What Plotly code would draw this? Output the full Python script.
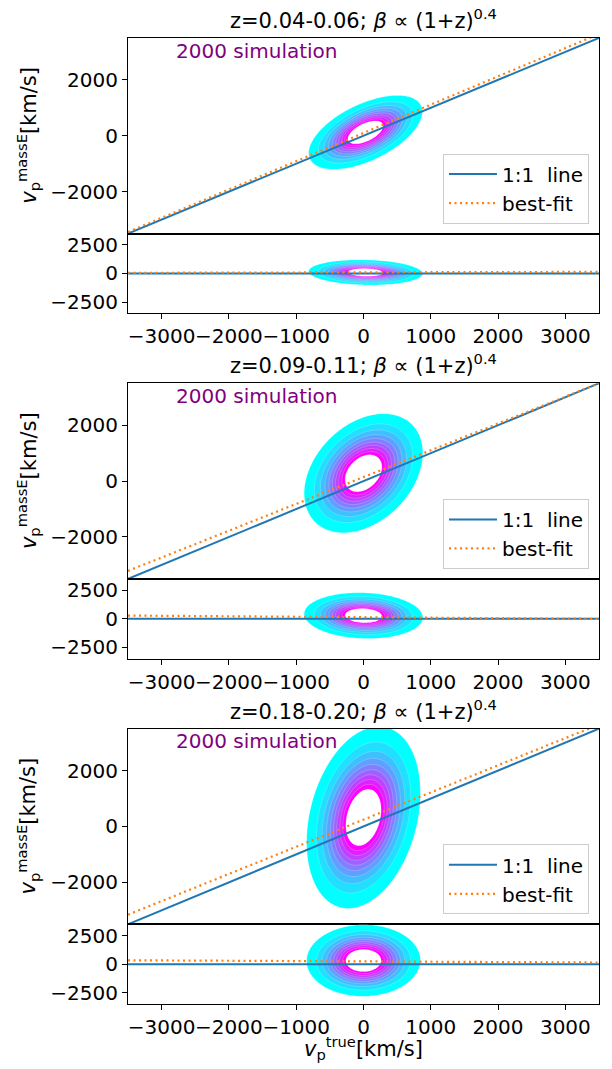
import numpy as np
import plotly.graph_objects as go

W, H = 612, 1069

# ---------------- data ----------------
panel_titles = ["z=0.04-0.06; <i>β</i> ∝ (1+z)<sup>0.4</sup>",
                "z=0.09-0.11; <i>β</i> ∝ (1+z)<sup>0.4</sup>",
                "z=0.18-0.20; <i>β</i> ∝ (1+z)<sup>0.4</sup>"]
sim_label = "2000 simulation"
legend_names = ["1:1\u00a0 line", "best-fit"]
y_label = "<i>v</i><sub>p</sub><sup>massE</sup>[km/s]"
x_label = "<i>v</i><sub>p</sub><sup>true</sup>[km/s]"

axis_range = [-3500, 3500]
x_ticks = [-3000, -2000, -1000, 0, 1000, 2000, 3000]
main_y_ticks = [-2000, 0, 2000]
resid_y_ticks = [-2500, 0, 2500]

# best-fit lines per panel
fit_intercept = [100, 143, 245]
fit_slope = [1.012, 0.959, 0.972]

# density cloud per panel (centre, spreads, correlation)
cloud_center_x = [30, 0, 0]
cloud_center_y = [120, 280, 320]
cloud_sigma_x = [345, 360, 345]
cloud_sigma_y = [540, 870, 1330]
cloud_corr = [0.56, 0.34, 0.27]

# contour levels (fraction of peak density)
level_start = 0.05
level_end = 0.75
n_levels = 10
band_colors = ["#00ffff", "#20dfff", "#40bfff", "#609fff", "#807fff",
               "#9f60ff", "#bf40ff", "#df20ff", "#ff00ff"]

# ---------------- layout geometry (pixels) ----------------
FONT = "DejaVu Sans"
x_left, x_right = 128, 599
panel_tops = [37, 383, 729]
main_h, resid_h = 196, 80


def py(p):
    return 1 - p / H


level_size = (level_end - level_start) / (n_levels - 1)
colorscale = [[0.0, "rgba(255,255,255,0)"]]
for k, c in enumerate(band_colors):
    colorscale.append([(k + 1) / n_levels, c])
colorscale.append([1.0, "#ffffff"])

grid = np.linspace(axis_range[0], axis_range[1], 281)
GX, GY = np.meshgrid(grid, grid)


def density(xv, yv, i):
    dx = (xv - cloud_center_x[i]) / cloud_sigma_x[i]
    dy = (yv - cloud_center_y[i]) / cloud_sigma_y[i]
    r = cloud_corr[i]
    q = (dx * dx - 2 * r * dx * dy + dy * dy) / (1 - r * r)
    return np.exp(-0.5 * q)


fig = go.Figure()
layout = dict(
    width=W, height=H, margin=dict(l=0, r=0, t=0, b=0),
    paper_bgcolor="white", plot_bgcolor="white",
    font=dict(family=FONT, size=20, color="black"),
    annotations=[],
)

axis_common = dict(showline=True, linecolor="black", linewidth=1, mirror=True,
                   showgrid=False, zeroline=False, ticks="outside", ticklen=5,
                   tickwidth=1, tickcolor="black", tickangle=0,
                   tickfont=dict(family=FONT, size=20, color="black"))

line_x = np.array(axis_range, dtype=float)

for i in range(3):
    top = panel_tops[i]
    mid = top + main_h
    bot = mid + resid_h
    xa_m = "xaxis" if i == 0 else f"xaxis{2 * i + 1}"
    ya_m = "yaxis" if i == 0 else f"yaxis{2 * i + 1}"
    xa_r = f"xaxis{2 * i + 2}"
    ya_r = f"yaxis{2 * i + 2}"
    xm = "x" if i == 0 else f"x{2 * i + 1}"
    ymm = "y" if i == 0 else f"y{2 * i + 1}"
    xr = f"x{2 * i + 2}"
    yr = f"y{2 * i + 2}"
    leg = "legend" if i == 0 else f"legend{i + 1}"

    dom_x = [x_left / W, x_right / W]
    layout[xa_m] = dict(axis_common, domain=dom_x, range=axis_range, anchor=ymm,
                        showticklabels=False, ticks="", matches=xr)
    layout[ya_m] = dict(axis_common, domain=[py(mid), py(top)], range=axis_range,
                        anchor=xm, tickvals=main_y_ticks)
    layout[xa_r] = dict(axis_common, domain=dom_x, range=axis_range, anchor=yr,
                        tickvals=x_ticks)
    layout[ya_r] = dict(axis_common, domain=[py(bot), py(mid)], range=axis_range,
                        anchor=xr, tickvals=resid_y_ticks)

    contour_kw = dict(
        contours=dict(start=level_start, end=level_end, size=level_size,
                      coloring="fill", showlines=True),
        line=dict(width=0.6, color="rgba(255,255,255,0.35)", smoothing=1),
        colorscale=colorscale, showscale=False, hoverinfo="skip",
        showlegend=False, zmin=0, zmax=1,
    )
    # main density
    fig.add_trace(go.Contour(x=grid, y=grid, z=density(GX, GY, i),
                             xaxis=xm, yaxis=ymm, **contour_kw))
    # residual density (y - x)
    fig.add_trace(go.Contour(x=grid, y=grid, z=density(GX, GX + GY, i),
                             xaxis=xr, yaxis=yr, **contour_kw))

    fit_y = fit_intercept[i] + fit_slope[i] * line_x
    # main lines
    fig.add_trace(go.Scatter(x=line_x, y=line_x, mode="lines", name=legend_names[0],
                             line=dict(color="#1f77b4", width=2),
                             xaxis=xm, yaxis=ymm, legend=leg, hoverinfo="skip"))
    fig.add_trace(go.Scatter(x=line_x, y=fit_y, mode="lines", name=legend_names[1],
                             line=dict(color="#ff7f0e", width=2.2, dash="2px,3.5px"),
                             xaxis=xm, yaxis=ymm, legend=leg, hoverinfo="skip"))
    # residual lines
    fig.add_trace(go.Scatter(x=line_x, y=line_x - line_x, mode="lines",
                             line=dict(color="#1f77b4", width=2), showlegend=False,
                             xaxis=xr, yaxis=yr, hoverinfo="skip"))
    fig.add_trace(go.Scatter(x=line_x, y=fit_y - line_x, mode="lines",
                             line=dict(color="#ff7f0e", width=2.2, dash="2px,3.5px"),
                             showlegend=False, xaxis=xr, yaxis=yr, hoverinfo="skip"))

    layout[leg] = dict(x=589 / W, xanchor="right", y=py(mid - 10), yanchor="bottom",
                       bgcolor="rgba(255,255,255,0.85)", bordercolor="#cccccc",
                       borderwidth=1, font=dict(family=FONT, size=20, color="black"),
                       tracegroupgap=2, itemwidth=48)

    # title
    layout["annotations"].append(dict(
        text=panel_titles[i], xref="paper", yref="paper",
        x=(x_left + x_right) / 2 / W, y=py(top - 3), xanchor="center", yanchor="bottom",
        showarrow=False, font=dict(family=FONT, size=21, color="black")))
    # simulation label
    layout["annotations"].append(dict(
        text=sim_label, xref=xm, yref=ymm, x=-2820, y=3040,
        xanchor="left", yanchor="middle", showarrow=False,
        font=dict(family=FONT, size=20, color="#800080")))
    # y label
    layout["annotations"].append(dict(
        text=y_label, xref="paper", yref="paper", x=28 / W, y=py(top + main_h / 2),
        xanchor="center", yanchor="middle", textangle=-90, showarrow=False,
        font=dict(family=FONT, size=21, color="black")))

layout["annotations"].append(dict(
    text=x_label, xref="paper", yref="paper", x=(x_left + x_right) / 2 / W,
    y=py(1066), xanchor="center", yanchor="bottom", showarrow=False,
    font=dict(family=FONT, size=21, color="black")))

fig.update_layout(**layout)
fig.write_html("out.html")
